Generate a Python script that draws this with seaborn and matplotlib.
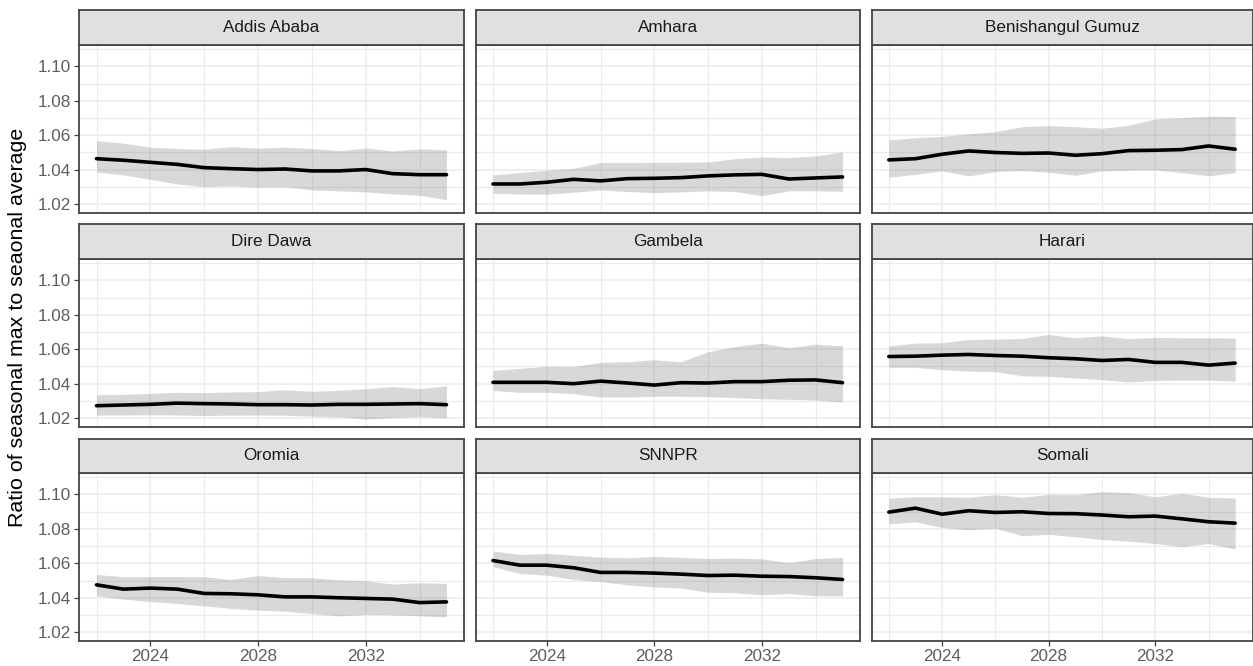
import matplotlib
matplotlib.use("Agg")
import matplotlib.pyplot as plt
import numpy as np
import pandas as pd
import seaborn as sns

years = list(range(2022, 2036))

regions = ["Addis Ababa", "Amhara", "Benishangul Gumuz",
           "Dire Dawa", "Gambela", "Harari",
           "Oromia", "SNNPR", "Somali"]

# Central estimate of the ratio, per region
ratio_mid = {
    "Addis Ababa": [1.0463, 1.0454, 1.0442, 1.0430, 1.0411, 1.0405, 1.0400, 1.0403, 1.0392, 1.0392, 1.0400, 1.0376, 1.0370, 1.0370],
    "Amhara": [1.0316, 1.0316, 1.0326, 1.0343, 1.0334, 1.0347, 1.0349, 1.0353, 1.0363, 1.0369, 1.0372, 1.0345, 1.0351, 1.0357],
    "Benishangul Gumuz": [1.0456, 1.0463, 1.0489, 1.0508, 1.0499, 1.0494, 1.0496, 1.0483, 1.0492, 1.0510, 1.0512, 1.0516, 1.0537, 1.0518],
    "Dire Dawa": [1.0271, 1.0275, 1.0279, 1.0286, 1.0283, 1.0281, 1.0277, 1.0277, 1.0275, 1.0279, 1.0279, 1.0281, 1.0283, 1.0277],
    "Gambela": [1.0407, 1.0407, 1.0407, 1.0399, 1.0414, 1.0403, 1.0391, 1.0405, 1.0403, 1.0411, 1.0411, 1.0419, 1.0421, 1.0405],
    "Harari": [1.0557, 1.0559, 1.0565, 1.0569, 1.0563, 1.0559, 1.0550, 1.0544, 1.0534, 1.0540, 1.0523, 1.0523, 1.0507, 1.0519],
    "Oromia": [1.0475, 1.0450, 1.0456, 1.0450, 1.0425, 1.0423, 1.0417, 1.0405, 1.0405, 1.0400, 1.0396, 1.0392, 1.0372, 1.0376],
    "SNNPR": [1.0616, 1.0589, 1.0589, 1.0574, 1.0547, 1.0547, 1.0543, 1.0537, 1.0529, 1.0531, 1.0525, 1.0523, 1.0516, 1.0506],
    "Somali": [1.0897, 1.0920, 1.0885, 1.0905, 1.0895, 1.0899, 1.0889, 1.0888, 1.0880, 1.0870, 1.0874, 1.0858, 1.0841, 1.0833],
}

# Lower bound of the uncertainty band
ratio_low = {
    "Addis Ababa": [1.0386, 1.0369, 1.0343, 1.0316, 1.0300, 1.0305, 1.0297, 1.0300, 1.0281, 1.0276, 1.0270, 1.0258, 1.0250, 1.0225],
    "Amhara": [1.0262, 1.0258, 1.0256, 1.0268, 1.0281, 1.0272, 1.0266, 1.0270, 1.0276, 1.0272, 1.0248, 1.0276, 1.0276, 1.0274],
    "Benishangul Gumuz": [1.0355, 1.0372, 1.0392, 1.0363, 1.0388, 1.0394, 1.0384, 1.0367, 1.0392, 1.0396, 1.0398, 1.0382, 1.0363, 1.0382],
    "Dire Dawa": [1.0217, 1.0217, 1.0219, 1.0217, 1.0214, 1.0216, 1.0217, 1.0216, 1.0210, 1.0206, 1.0194, 1.0202, 1.0208, 1.0200],
    "Gambela": [1.0360, 1.0349, 1.0349, 1.0341, 1.0322, 1.0322, 1.0326, 1.0326, 1.0324, 1.0318, 1.0312, 1.0308, 1.0304, 1.0291],
    "Harari": [1.0494, 1.0494, 1.0481, 1.0472, 1.0469, 1.0445, 1.0442, 1.0432, 1.0422, 1.0409, 1.0418, 1.0420, 1.0420, 1.0413],
    "Oromia": [1.0411, 1.0392, 1.0378, 1.0367, 1.0353, 1.0338, 1.0328, 1.0322, 1.0308, 1.0295, 1.0303, 1.0301, 1.0295, 1.0289],
    "SNNPR": [1.0580, 1.0541, 1.0531, 1.0506, 1.0494, 1.0475, 1.0463, 1.0456, 1.0432, 1.0429, 1.0417, 1.0425, 1.0411, 1.0411],
    "Somali": [1.0829, 1.0840, 1.0808, 1.0794, 1.0804, 1.0760, 1.0768, 1.0754, 1.0738, 1.0729, 1.0715, 1.0696, 1.0715, 1.0682],
}

# Upper bound of the uncertainty band
ratio_high = {
    "Addis Ababa": [1.0568, 1.0553, 1.0530, 1.0522, 1.0518, 1.0533, 1.0524, 1.0530, 1.0522, 1.0510, 1.0525, 1.0508, 1.0520, 1.0514],
    "Amhara": [1.0369, 1.0382, 1.0396, 1.0407, 1.0440, 1.0440, 1.0442, 1.0442, 1.0444, 1.0463, 1.0473, 1.0469, 1.0479, 1.0502],
    "Benishangul Gumuz": [1.0572, 1.0585, 1.0593, 1.0607, 1.0620, 1.0649, 1.0655, 1.0649, 1.0640, 1.0657, 1.0694, 1.0702, 1.0710, 1.0708],
    "Dire Dawa": [1.0335, 1.0337, 1.0343, 1.0349, 1.0347, 1.0351, 1.0353, 1.0364, 1.0355, 1.0360, 1.0370, 1.0382, 1.0370, 1.0387],
    "Gambela": [1.0476, 1.0488, 1.0501, 1.0499, 1.0523, 1.0527, 1.0538, 1.0527, 1.0585, 1.0615, 1.0635, 1.0608, 1.0629, 1.0619],
    "Harari": [1.0619, 1.0635, 1.0637, 1.0656, 1.0658, 1.0662, 1.0685, 1.0666, 1.0677, 1.0660, 1.0668, 1.0666, 1.0666, 1.0664],
    "Oromia": [1.0535, 1.0522, 1.0523, 1.0523, 1.0522, 1.0506, 1.0529, 1.0516, 1.0516, 1.0504, 1.0500, 1.0479, 1.0487, 1.0483],
    "SNNPR": [1.0671, 1.0651, 1.0657, 1.0646, 1.0636, 1.0632, 1.0640, 1.0634, 1.0628, 1.0630, 1.0626, 1.0603, 1.0628, 1.0634],
    "Somali": [1.0977, 1.0986, 1.0986, 1.0983, 1.0998, 1.0983, 1.1000, 1.0998, 1.1016, 1.1010, 1.0986, 1.1006, 1.0983, 1.0979],
}

x_major = [2024, 2028, 2032]
x_minor = [2022, 2026, 2030, 2034]
y_major = [1.02, 1.04, 1.06, 1.08, 1.10]
y_minor = [1.03, 1.05, 1.07, 1.09, 1.11]
y_label = "Ratio of seasonal max to seaonal average"

sns.set_theme(style="white")
plt.rcParams["font.family"] = ["Liberation Sans", "DejaVu Sans"]

W, H = 1253, 666
fig = plt.figure(figsize=(W / 100, H / 100), dpi=100)
fig.patch.set_facecolor("white")

# panel geometry in pixels (left, right) per column and (strip top, panel top, panel bottom) per row
cols = [(79, 464), (475.5, 860), (871.5, 1252.5)]
rows = [(10, 45, 212.7), (224.3, 259, 426.7), (438.5, 473, 641)]

border = "#444444"
grid_c = "#EBEBEB"

frames = []
for r in regions:
    frames.append(pd.DataFrame({"region": r, "year": years,
                                "mid": ratio_mid[r], "low": ratio_low[r], "high": ratio_high[r]}))
df = pd.concat(frames, ignore_index=True)

for i, region in enumerate(regions):
    ri, ci = divmod(i, 3)
    x0, x1 = cols[ci]
    st, pt, pb = rows[ri]
    ax = fig.add_axes([x0 / W, 1 - pb / H, (x1 - x0) / W, (pb - pt) / H])
    sax = fig.add_axes([x0 / W, 1 - pt / H, (x1 - x0) / W, (pt - st) / H])

    sub = df[df["region"] == region]
    ax.fill_between(sub["year"], sub["low"], sub["high"], color="#7F7F7F",
                    alpha=0.3, linewidth=0, zorder=2)
    sns.lineplot(data=sub, x="year", y="mid", ax=ax, color="black",
                 linewidth=2.6, zorder=3)

    ax.set_xlim(2021.35, 2035.65)
    ax.set_ylim(1.0149, 1.1124)
    ax.set_xticks(x_major)
    ax.set_xticks(x_minor, minor=True)
    ax.set_yticks(y_major)
    ax.set_yticks(y_minor, minor=True)
    ax.set_axisbelow(True)
    ax.grid(which="major", color=grid_c, linewidth=1.1)
    ax.grid(which="minor", color=grid_c, linewidth=0.8)
    ax.set_xlabel("")
    ax.set_ylabel("")
    ax.tick_params(which="major", length=3.5, width=0.9, color=border,
                   labelsize=12.3, labelcolor="#5E5E5E", pad=2)
    ax.tick_params(which="minor", length=0)
    ax.set_yticklabels([f"{v:.2f}" for v in y_major])
    ax.set_xticklabels([str(v) for v in x_major])
    if ri < 2:
        ax.tick_params(axis="x", which="major", labelbottom=False)
    if ci > 0:
        ax.tick_params(axis="y", which="major", labelleft=False, length=0)
    else:
        ax.tick_params(axis="y", which="major", left=True)
    if ri == 2:
        ax.tick_params(axis="x", which="major", bottom=True)
    else:
        ax.tick_params(axis="x", which="major", length=0)
    for s in ax.spines.values():
        s.set_color(border)
        s.set_linewidth(1.3)
        s.set_visible(True)
    ax.set_facecolor("white")

    sax.set_facecolor("#E0E0E0")
    sax.set_xticks([])
    sax.set_yticks([])
    for s in sax.spines.values():
        s.set_color(border)
        s.set_linewidth(1.3)
        s.set_visible(True)
    sax.text(0.5, 0.5, region, transform=sax.transAxes, ha="center", va="center",
             fontsize=12.3, color="#1A1A1A")

fig.text(18 / W, 1 - 327 / H, y_label, rotation=90, ha="center", va="center",
         fontsize=15.4, color="black")

fig.savefig("out.png", dpi=100, facecolor="white")
